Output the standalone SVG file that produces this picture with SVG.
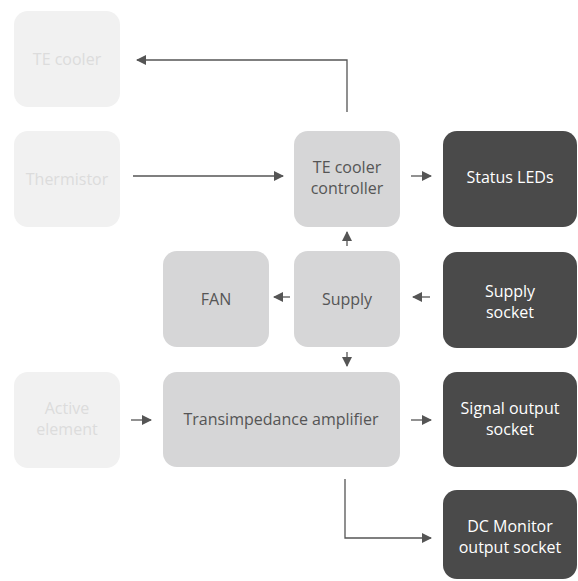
<svg xmlns="http://www.w3.org/2000/svg" width="578" height="581" viewBox="0 0 578 581">
<defs>
<marker id="ah" viewBox="0 0 10 10" refX="9" refY="5" markerWidth="10" markerHeight="10" markerUnits="userSpaceOnUse" orient="auto">
<path d="M0,0 L10,5 L0,10 Z" fill="#555"/>
</marker>
<style>
.faint rect{fill:#f1f1f1}
.faint text{fill:#dcdcdc}
.mid rect{fill:#d6d6d7}
.mid text{fill:#555}
.dark rect{fill:#4a4a4a}
.dark text{fill:#fff}
text{font-family:"Open Sans","Liberation Sans",sans-serif;font-size:16px;text-anchor:middle}
#connectors path{fill:none;stroke:#555;stroke-width:1.3;marker-end:url(#ah)}
</style>
</defs>
<rect width="578" height="581" fill="#fff"/>
<g id="te-cooler" class="faint"><rect x="14" y="11" width="106" height="96" rx="14"/><text x="67" y="65">TE cooler</text></g>
<g id="thermistor" class="faint"><rect x="14" y="131" width="106" height="96" rx="14"/><text x="67" y="185">Thermistor</text></g>
<g id="controller" class="mid"><rect x="294" y="131" width="106" height="96" rx="14"/><text x="347" y="173">TE cooler</text><text x="347" y="194">controller</text></g>
<g id="status-leds" class="dark"><rect x="443" y="131" width="134" height="96" rx="14"/><text x="510" y="183">Status LEDs</text></g>
<g id="fan" class="mid"><rect x="163" y="251" width="106" height="96" rx="14"/><text x="216" y="305">FAN</text></g>
<g id="supply" class="mid"><rect x="294" y="251" width="106" height="96" rx="14"/><text x="347" y="305">Supply</text></g>
<g id="supply-socket" class="dark"><rect x="443" y="252" width="134" height="96" rx="14"/><text x="510" y="297">Supply</text><text x="510" y="318">socket</text></g>
<g id="active-element" class="faint"><rect x="14" y="372" width="106" height="96" rx="14"/><text x="67" y="414">Active</text><text x="67" y="435">element</text></g>
<g id="tia" class="mid"><rect x="163" y="372" width="237" height="95" rx="14"/><text x="281" y="425">Transimpedance amplifier</text></g>
<g id="signal-output" class="dark"><rect x="443" y="372" width="134" height="95" rx="14"/><text x="510" y="414">Signal output</text><text x="510" y="435">socket</text></g>
<g id="dc-monitor" class="dark"><rect x="443" y="490" width="134" height="89" rx="14"/><text x="510" y="532">DC Monitor</text><text x="510" y="553">output socket</text></g>
<g id="connectors">
<path d="M347,112 V60 H137"/>
<path d="M133,176 H283"/>
<path d="M411,176 H431"/>
<path d="M347,246 V232"/>
<path d="M290,297 H274"/>
<path d="M430,297 H413"/>
<path d="M347,352 V366"/>
<path d="M131,420 H151"/>
<path d="M411,420 H431"/>
<path d="M345,479 V538 H431"/>
</g>
</svg>
